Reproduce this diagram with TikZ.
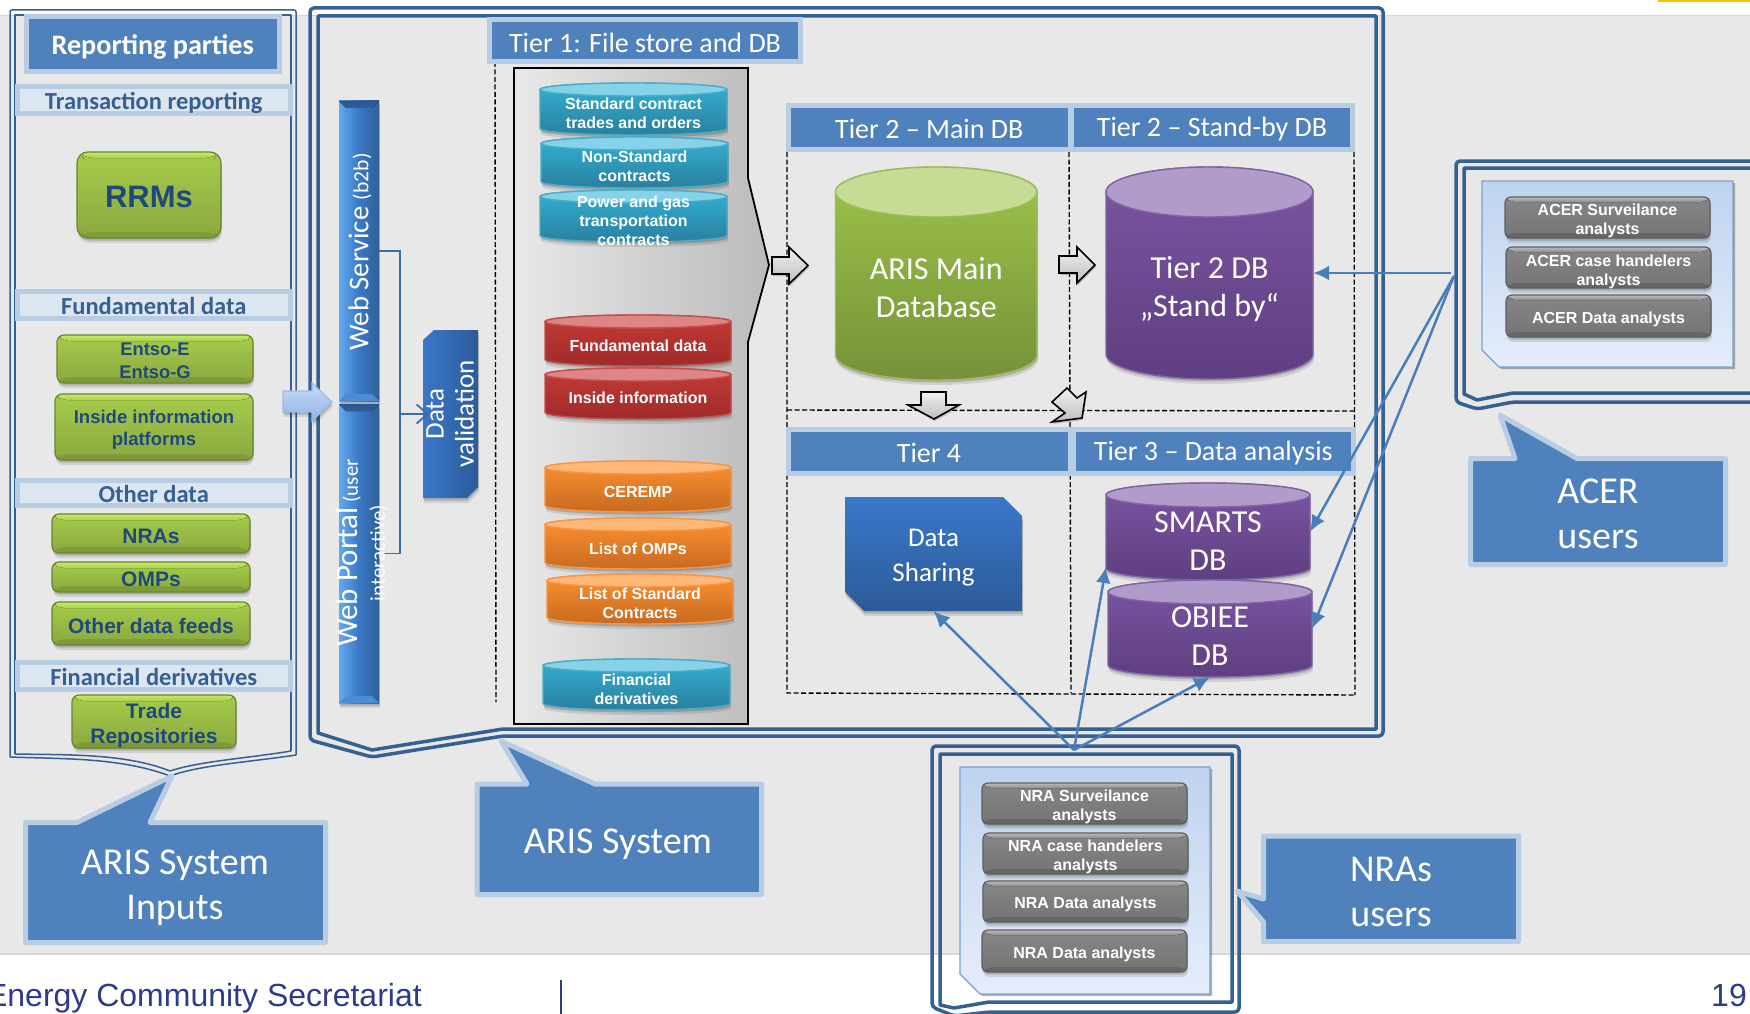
\documentclass[tikz,border=0pt]{standalone}
\usepackage{fontspec}
\setmainfont{Carlito}
\newfontfamily\arialf{Liberation Sans}
\usetikzlibrary{shadows,calc,arrows.meta}
\newcommand\fs[2]{\fontsize{#1}{#2}\selectfont}
\definecolor{pagegray}{HTML}{E8E8E8}
\definecolor{framec}{HTML}{366092}
\definecolor{hdrfill}{HTML}{4F81BD}
\definecolor{hdredge}{HTML}{B8CCE4}
\definecolor{barfill}{HTML}{DCE6F1}
\definecolor{navy}{HTML}{1F497D}
\definecolor{linkc}{HTML}{4A7EBB}
\definecolor{footc}{HTML}{2E3A8C}
\definecolor{gA}{HTML}{A6CC4B}\definecolor{gB}{HTML}{8BA83F}\definecolor{gC}{HTML}{C6EC62}\definecolor{gD}{HTML}{A8D04E}\definecolor{gE}{HTML}{7F9C38}\definecolor{gF}{HTML}{6A8530}
\definecolor{kA}{HTML}{868686}\definecolor{kB}{HTML}{747474}\definecolor{kC}{HTML}{BDBDBD}\definecolor{kD}{HTML}{8C8C8C}\definecolor{kE}{HTML}{666666}\definecolor{kF}{HTML}{5E5E5E}
\definecolor{bA}{HTML}{62A8F0}\definecolor{bB}{HTML}{2F5F99}\definecolor{bC}{HTML}{3A78C4}\definecolor{bD}{HTML}{2B5790}\definecolor{bE}{HTML}{4C8BD6}
\definecolor{cyA}{HTML}{33B1D3}\definecolor{cyB}{HTML}{2A7F9F}\definecolor{cyC}{HTML}{4BACC6}\definecolor{cyD}{HTML}{86D2E8}
\definecolor{reA}{HTML}{C63A36}\definecolor{reB}{HTML}{9E2B2A}\definecolor{reC}{HTML}{C0504D}\definecolor{reD}{HTML}{E08585}
\definecolor{orA}{HTML}{FF9130}\definecolor{orB}{HTML}{C76A20}\definecolor{orC}{HTML}{F79646}\definecolor{orD}{HTML}{FFB877}
\definecolor{grA}{HTML}{9DC448}\definecolor{grB}{HTML}{76913A}\definecolor{grC}{HTML}{9BBB59}\definecolor{grD}{HTML}{C6DC95}
\definecolor{puA}{HTML}{7C55A2}\definecolor{puB}{HTML}{5E3F80}\definecolor{puC}{HTML}{8064A2}\definecolor{puD}{HTML}{B09BCB}
\definecolor{arA}{HTML}{F0F0F0}\definecolor{arB}{HTML}{BEBEBE}\definecolor{paA}{HTML}{BED3EE}\definecolor{paB}{HTML}{E5EDFB}\definecolor{paC}{HTML}{7AA0CF}
\definecolor{snA}{HTML}{3A78C9}\definecolor{snB}{HTML}{2C5B99}\definecolor{brk}{HTML}{3A6EA5}
\definecolor{pnA}{HTML}{E8E8E8}\definecolor{pnB}{HTML}{BBBBBB}\definecolor{pgl}{HTML}{D6D6D6}\definecolor{accentyellow}{HTML}{FFC000}
\definecolor{inA}{HTML}{C8DBF8}\definecolor{inB}{HTML}{8FB4E6}\definecolor{inC}{HTML}{9DBBE6}
\newcommand\bevelpic[4]{%
 \coordinate (bNW) at (path picture bounding box.north west);
 \coordinate (bNE) at (path picture bounding box.north east);
 \coordinate (bSW) at (path picture bounding box.south west);
 \coordinate (bSE) at (path picture bounding box.south east);
 \fill[top color=#2,bottom color=#3] (bNW) -- (bNE) -- ([shift={(-#1,#1)}]bNE) -- ([shift={(#1,#1)}]bNW) -- cycle;
 \fill[#4] (bSW) -- (bSE) -- ([shift={(-#1,-#1)}]bSE) -- ([shift={(#1,-#1)}]bSW) -- cycle;
}
\tikzset{
 softshadow/.style={drop shadow={shadow xshift=1pt,shadow yshift=-5pt,opacity=.10,fill=black},drop shadow={shadow xshift=.5pt,shadow yshift=-2.5pt,opacity=.16,fill=black}},
 hdr/.style={fill=hdrfill,draw=hdredge,line width=5pt,inner sep=0pt},
 hdrt/.style={text=white,inner sep=0pt,align=center,font=\fs{28}{33},yshift=-1.5pt},
 secbar/.style={fill=barfill,draw=hdredge,line width=5pt,inner sep=0pt},
 secbart/.style={text=framec,inner sep=0pt,align=center,font=\bfseries\fs{24.5}{28},yshift=-1pt},
 greenbtn/.style={softshadow,rounded corners=7pt,draw=gF,line width=1.2pt,top color=gA,bottom color=gB,inner sep=0pt,
   path picture={\bevelpic{6}{gC}{gD}{gE}}},
 greent/.style={text=navy,inner sep=0pt,align=center},
 graybtn/.style={softshadow,rounded corners=6pt,draw=kF,line width=1.2pt,top color=kA,bottom color=kB,inner sep=0pt,
   path picture={\bevelpic{5}{kC}{kD}{kE}}},
 grayt/.style={text=white,inner sep=0pt,align=center,font=\arialf\bfseries\fs{16}{19},yshift=-3pt},
 bluebar/.style={softshadow,left color=bA,right color=bB,middle color=bC,draw=none,inner sep=0pt,
   path picture={\bevelpic{7}{bD}{bB}{bE}}},
 cyltext/.style={text=white,inner sep=0pt,align=center,font=\arialf\bfseries\fs{16}{19}},
 cylbig/.style={text=white,inner sep=0pt,align=center,font=\fs{32}{38}},
 span/.style={inner sep=0pt},
 cblue/.style={top color=cyA,bottom color=cyB,draw=cyC},
 cbluet/.style={fill=cyD,draw=cyC},
 cred/.style={top color=reA,bottom color=reB,draw=reC},
 credt/.style={fill=reD,draw=reC},
 corange/.style={top color=orA,bottom color=orB,draw=orC},
 corangt/.style={fill=orD,draw=orC},
 cgreen/.style={top color=grA,bottom color=grB,draw=grC},
 cgreent/.style={fill=grD,draw=grC},
 cpurple/.style={top color=puA,bottom color=puB,draw=puC},
 cpurplet/.style={fill=puD,draw=puC},
 frameline/.style={draw=framec,line join=round},
 dashline/.style={draw=black,line width=1.4pt,dash pattern=on 5pt off 2.5pt},
 blockarrow/.style={draw=black,line width=1.6pt,line join=miter,top color=arA,bottom color=arB,drop shadow={shadow xshift=1pt,shadow yshift=-2pt,opacity=.2,fill=black}},
 panel/.style={top color=paA,bottom color=paB,draw=paC,line width=1.2pt,drop shadow={shadow xshift=2pt,shadow yshift=-2pt,opacity=.3,fill=black}},
 snipblue/.style={top color=snA,bottom color=snB,draw=none,softshadow},
 callout/.style={fill=hdrfill,draw=hdredge,line width=5pt,line join=round},
 calltext/.style={text=white,inner sep=0pt,align=center,font=\fs{38}{45}},
 link/.style={draw=linkc,line width=2.5pt,-{Latex[length=16pt,width=15pt]}},
 bracket/.style={draw=brk,line width=1.8pt},
}
\newcommand\rnbox[6][]{\node[#1,minimum width={#5-#3},minimum height={#6-#4}] (#2) at ({(#3+#5)/2},{(#4+#6)/2}) {};}
% [box style]{name}{x1}{y1}{x2}{y2}{text style}{text}
\newcommand\rn[8][]{\rnbox[#1]{#2}{#3}{#4}{#5}{#6}\node[#7] (#2t) at ({(#3+#5)/2},{(#4+#6)/2}) {#8};}
\newcommand\dbcyl[5]{\pgfmathsetmacro\cylrx{(#4-#2)/2}\pgfmathsetmacro\cylcx{(#4+#2)/2}%
 \def\cylA{#1}\def\cylB{#2}\def\cylC{#3}\def\cylD{#4}\def\cylE{#5}\dbcylnext}
\newcommand\dbcylnext[6]{%
 \path[#2,softshadow,line width=1.4pt] (\cylB,\cylC+#1) -- (\cylB,\cylE-#1) arc[start angle=180,end angle=360,x radius=\cylrx pt,y radius=#1 pt] -- (\cylD,\cylC+#1) arc[start angle=0,end angle=180,x radius=\cylrx pt,y radius=#1 pt] -- cycle;
 \path[#3,line width=1.4pt] (\cylcx,\cylC+#1) ellipse[x radius=\cylrx pt,y radius=#1 pt];
 \rnbox[span]{\cylA}{\cylB}{\cylC}{\cylD}{\cylE}
 \node[#4] (\cylA t) at (\cylcx,{(\cylC+\cylE)/2+#5}) {#6};
}
\begin{document}
\begin{tikzpicture}[x=1pt,y=-1pt]
\useasboundingbox (0,0) rectangle (1750,1014);
\fill[white] (0,0) rectangle (1750,1014);
\fill[pagegray] (0,16) rectangle (1750,953);
\draw[pgl,line width=1.5pt] (0,15.5) -- (1750,15.5) (0,954) -- (1750,954);
\fill[accentyellow] (1658,0) rectangle (1750,2.5);

% --- left frame
\draw[frameline,line width=1.5pt,rounded corners=2pt] (296,755) -- (296,10) -- (10,10) -- (10,757);
\draw[frameline,line width=1.5pt] (10,757) .. controls (60,759) and (120,757) .. (170,776) .. controls (200,765) and (250,762) .. (296,755);
\draw[frameline,line width=1.5pt] (291,751) -- (291,15) -- (15,15) -- (15,754);
\draw[frameline,line width=1.5pt] (15,754) .. controls (65,755) and (125,753) .. (170,771) .. controls (200,761) and (250,758) .. (291,751);

\rn[hdr]{rep}{26}{16.5}{279.5}{71.5}{hdrt,font=\bfseries\fs{28.2}{33},yshift=-1.5pt}{Reporting parties}
\rn[secbar]{s1}{17.5}{87}{290}{113.5}{secbart,yshift=-1.5pt}{Transaction reporting}
\rn[secbar]{s2}{17.5}{291.5}{290}{318.5}{secbart}{Fundamental data}
\rn[secbar]{s3}{17.5}{480}{290}{505.5}{secbart}{Other data}
\rn[secbar]{s4}{17.5}{662.5}{290}{689.5}{secbart}{Financial derivatives}

\rn[greenbtn,rounded corners=11pt]{rrm}{77}{152}{221}{238}{greent,font=\arialf\bfseries\fs{31}{36},yshift=-2pt}{RRMs}
\rn[greenbtn]{en}{57}{335}{253}{383}{greent,font=\arialf\bfseries\fs{18.3}{23},yshift=-2pt}{Entso-E\\Entso-G}
\rn[greenbtn]{ins}{55}{394}{253}{460}{greent,font=\arialf\bfseries\fs{18.5}{22},yshift=-3pt}{Inside information\\platforms}
\rn[greenbtn]{nra}{52}{514}{250}{553}{greent,font=\arialf\bfseries\fs{21}{25},yshift=-3pt}{NRAs}
\rn[greenbtn]{omp}{52}{562}{250}{592}{greent,font=\arialf\bfseries\fs{21}{25},yshift=-2pt}{OMPs}
\rn[greenbtn]{odf}{52}{602}{250}{645}{greent,font=\arialf\bfseries\fs{21}{25},yshift=-2pt}{Other data feeds}
\rn[greenbtn]{tra}{72}{695}{236}{748}{greent,font=\arialf\bfseries\fs{21}{25},yshift=-4pt}{Trade\\Repositories}

% --- ARIS frame
\draw[frameline,line width=3.5pt,rounded corners=4pt] (310,740) -- (310,8) -- (1383,8) -- (1383,736) -- (503,736) -- (372,757) -- cycle;
\draw[frameline,line width=3.5pt] (318,733) -- (318,16) -- (1376,16) -- (1376,729) -- (503,729) -- (372,750) -- cycle;

% --- web layer
\rnbox[bluebar]{ws}{339}{101}{379}{401}
\rnbox[bluebar]{wp}{339}{404}{379}{703}
\path[snipblue,shading angle=90] (423,340) -- (434,330) -- (478,330) -- (478,487) -- (467,498) -- (423,498) -- cycle;
\rnbox[span]{dv}{423}{330}{478}{498}
\coordinate (bus) at (400,414);
\coordinate (dvin) at (429,414);
\draw[bracket] (ws.east) -| (bus) |- (wp.east);
\draw[bracket,-{Straight Barb[length=11pt,width=19pt]}] (bus) -- (dvin);
\node[text=white,rotate=90,inner sep=0pt,font=\fs{28.7}{30}] (wst) at (360,252) {Web Service {\fs{21.6}{24}(b2b)}};
\node[text=white,rotate=90,inner sep=0pt,align=center,font=\fs{21}{27}] (wpt) at (362,553) {{\fs{31}{27}Web Portal} (user\\interactive)};
\node[text=white,rotate=90,inner sep=0pt,align=center,font=\fs{27}{30}] (dvt) at (450,414) {Data\\validation};

% input arrow
\path[draw=inC,line width=1.2pt,top color=inA,bottom color=inB,softshadow] (283,391) -- (312,391) -- (312,383) -- (332,402) -- (312,421) -- (312,412) -- (283,412) -- cycle;

% --- Tier 1
\draw[dashline] (495,62) -- (496,702);
\path[left color=pnA,right color=pnB,draw=black,line width=1.8pt] (514,68) -- (748,68) -- (748,178) -- (769,265) -- (748,342) -- (748,724) -- (514,724) -- cycle;
\rn[hdr]{t1}{489.5}{20}{800.5}{62}{hdrt}{Tier 1: File store and DB}

\dbcyl{cy1}{540}{83}{727}{135}{6.5}{cblue}{cbluet}{cyltext}{4}{Standard contract\\trades and orders}
\dbcyl{cy2}{541}{137}{728}{188}{6.5}{cblue}{cbluet}{cyltext}{4}{Non-Standard\\contracts}
\dbcyl{cy3}{540}{190}{727}{242}{6.5}{cblue}{cbluet}{cyltext}{4.5}{Power and gas\\transportation\\contracts}
\dbcyl{cy4}{545}{315}{731}{366}{6.5}{cred}{credt}{cyltext}{5}{Fundamental data}
\dbcyl{cy5}{545}{368}{731}{419}{6.5}{cred}{credt}{cyltext}{4}{Inside information}
\dbcyl{cy6}{545}{461}{731}{512}{6.5}{corange}{corangt}{cyltext}{5}{CEREMP}
\dbcyl{cy7}{545}{518}{731}{569}{6.5}{corange}{corangt}{cyltext}{5}{List of OMPs}
\dbcyl{cy8}{547}{574}{733}{624}{6.5}{corange}{corangt}{cyltext}{4}{List of Standard\\Contracts}
\dbcyl{cy9}{543}{659}{730}{710}{6.5}{cblue}{cbluet}{cyltext}{5}{Financial\\derivatives}

% --- tiers 2-4 dashed
\draw[dashline] (787,152) -- (787,693) -- (1355,695) (1354,152) -- (1355,695);
\draw[dashline] (1069,152) -- (1071,693);
\draw[dashline] (787,410) -- (1354,411);

\rn[hdr]{t2a}{788.5}{105.5}{1070}{149.5}{hdrt}{Tier 2 -- Main DB}
\rn[hdr]{t2b}{1071.5}{105.5}{1352.5}{149.5}{hdrt}{Tier 2 -- Stand-by DB}
\rn[hdr]{t4}{788}{429}{1070}{473.5}{hdrt}{Tier 4}
\rn[hdr]{t3}{1073}{429}{1353.5}{473.5}{hdrt}{Tier 3 -- Data analysis}

\dbcyl{main}{835.5}{167}{1037}{380}{25}{cgreen}{cgreent}{cylbig}{14}{ARIS Main\\Database}
\dbcyl{stby}{1106}{167}{1313}{379}{25}{cpurple}{cpurplet}{cylbig}{16.5}{Tier 2 DB\\„Stand by“}
\dbcyl{smarts}{1106}{483}{1310}{580}{12}{cpurple}{cpurplet}{cylbig}{10}{SMARTS\\DB}
\dbcyl{obiee}{1108}{580}{1312}{677}{12}{cpurple}{cpurplet}{cylbig}{7.5}{OBIEE\\DB}

\path[snipblue] (845,497) -- (1003,497) -- (1022,516) -- (1022,611) -- (864,611) -- (845,592) -- cycle;
\rn[span]{ds}{845}{497}{1022}{611}{text=white,inner sep=0pt,align=center,font=\fs{27}{35},yshift=-4pt}{Data\\Sharing}

% block arrows
\path[blockarrow] (772,257) -- (789,257) -- (789,247) -- (808,265.5) -- (789,284) -- (789,274) -- (772,274) -- cycle;
\path[blockarrow] (1059,256) -- (1077,256) -- (1077,247) -- (1095,265) -- (1077,283) -- (1077,273) -- (1059,273) -- cycle;
\path[blockarrow] (921,392) -- (946,392) -- (946,405) -- (959,405) -- (934,419) -- (908,405) -- (921,405) -- cycle;
\path[blockarrow] (1067,388) -- (1052,402) -- (1065,413) -- (1052,422) -- (1082,418) -- (1086,392) -- (1077,398) -- cycle;

% --- NRA frame
\draw[frameline,line width=3.5pt,rounded corners=4pt] (932,1007) -- (932,746) -- (1239,746) -- (1239,1012) -- (989,1012) -- (954,1016) -- cycle;
\draw[frameline,line width=3.5pt] (940,1005) -- (940,754) -- (1232,754) -- (1232,1002) -- (989,1002) -- (954,1008) -- cycle;
\path[panel] (960,767) -- (1210,767) -- (1210,994) -- (980,994) -- (960,974) -- cycle;
\rn[graybtn]{n1}{982}{783}{1187}{824}{grayt}{NRA Surveilance\\analysts}
\rn[graybtn]{n2}{983}{833}{1188}{874}{grayt}{NRA case handelers\\analysts}
\rn[graybtn]{n3}{983}{881}{1188}{922}{grayt}{NRA Data analysts}
\rn[graybtn]{n4}{982}{930}{1187}{972}{grayt}{NRA Data analysts}

% --- ACER frame
\draw[frameline,line width=3.5pt,rounded corners=4pt] (1760,402) -- (1513,402) -- (1477,409) -- (1456,402) -- (1456,161) -- (1760,161);
\draw[frameline,line width=3.5pt] (1760,393) -- (1513,393) -- (1477,400) -- (1464,394) -- (1464,168) -- (1760,168);
\path[panel] (1482,181) -- (1733,181) -- (1733,367) -- (1499,367) -- (1482,350) -- cycle;
\rn[graybtn]{a1}{1505}{197}{1710}{238}{grayt}{ACER Surveilance\\analysts}
\rn[graybtn]{a2}{1506}{247}{1711}{288}{grayt,yshift=-1pt}{ACER case handelers\\analysts}
\rn[graybtn]{a3}{1506}{295}{1711}{337}{grayt}{ACER Data analysts}

% --- connectors
\coordinate (acerhub) at (1454,276);
\coordinate (acerbus) at (1451,273);
\coordinate (nrahub) at (1074,750);
\coordinate (smartsin) at (1106,567);
\draw[link] (acerbus) -- (stby.east);
\draw[link] (acerhub) -- (smarts.east);
\draw[link] (acerhub) -- (obiee.east);
\draw[link] (nrahub) -- (ds.south);
\draw[link] (nrahub) -- (smartsin);
\draw[link] (nrahub) -- (obiee.south);

% --- callouts
\path[callout] (25.5,822.5) -- (77,822.5) -- (172,776) -- (150,822.5) -- (325.5,822.5) -- (325.5,942.5) -- (25.5,942.5) -- cycle;
\node[calltext] (cin) at (175,888) {ARIS System\\Inputs};
\path[callout] (477,784) -- (527,784) -- (501,741) -- (595,784) -- (761.5,784) -- (761.5,894.5) -- (477,894.5) -- cycle;
\node[calltext] (car) at (618,844) {ARIS System};
\path[callout] (1263.5,836) -- (1518.5,836) -- (1518.5,941.5) -- (1263.5,941.5) -- (1263.5,922) -- (1237,891) -- (1263.5,899) -- cycle;
\node[calltext] (cnr) at (1391,892) {NRAs\\users};
\path[callout] (1470.5,458.5) -- (1515,458.5) -- (1500,415) -- (1577,458.5) -- (1725.5,458.5) -- (1725.5,564.5) -- (1470.5,564.5) -- cycle;
\node[calltext] (cac) at (1598,514) {ACER\\users};

% --- footer
\node[anchor=base east,inner sep=0pt,text=footc,font=\arialf\fs{32}{36}] (foot) at (422,1006.5) {Energy Community Secretariat};
\node[anchor=base east,inner sep=0pt,text=footc,font=\arialf\fs{32}{36}] (pg) at (1747,1006.5) {19};
\draw[footc,line width=1.5pt] (561,980) -- (561,1014);
\end{tikzpicture}
\end{document}
